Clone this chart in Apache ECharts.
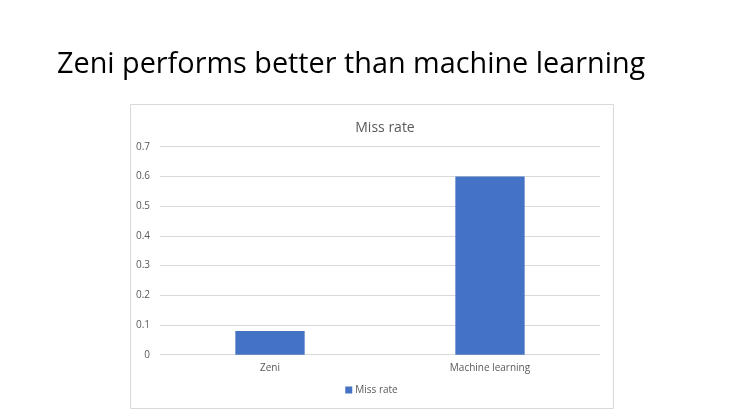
<!DOCTYPE html>
<html><head><meta charset="utf-8">
<script src="https://cdn.jsdelivr.net/npm/echarts@6/dist/echarts.min.js"></script>
<style>html,body{margin:0;padding:0;background:#fff;}#c{width:743px;height:418px;}</style>
</head><body><div id="c"></div>
<script>
const categories = ['Zeni', 'Machine learning'];
const missRate = [0.08, 0.6];
const yTicks = [0, 0.1, 0.2, 0.3, 0.4, 0.5, 0.6, 0.7];

const chart = echarts.init(document.getElementById('c'));
chart.setOption({
  animation: false,
  backgroundColor: '#ffffff',
  graphic: [{
    type: 'rect', left: 130, top: 104, z: -1,
    shape: { width: 483, height: 304 },
    style: { fill: '#fff', stroke: '#d9d9d9', lineWidth: 1 }
  }],
  title: [{
    text: 'Zeni performs better than machine learning',
    left: 52, top: 45,
    textStyle: { fontFamily: 'Open Sans', fontWeight: 'normal', fontSize: 28.8, color: '#000' }
  }, {
    text: 'Miss rate',
    left: 380, top: 116, textAlign: 'center',
    textStyle: { fontFamily: 'Open Sans', fontWeight: 'normal', fontSize: 14, color: '#595959' }
  }],
  legend: {
    bottom: 18, left: 'center',
    itemWidth: 7, itemHeight: 7, itemGap: 4,
    icon: 'rect',
    textStyle: { fontFamily: 'Open Sans', fontSize: 10, color: '#595959', padding: [0,0,0,-2] },
    data: ['Miss rate']
  },
  grid: { left: 160, right: 143, top: 146.7, bottom: 63.3 },
  xAxis: {
    type: 'category', data: categories,
    axisLine: { lineStyle: { color: '#d9d9d9' } },
    axisTick: { show: false },
    axisLabel: { fontFamily: 'Open Sans', fontSize: 10, color: '#595959', margin: 8 }
  },
  yAxis: {
    type: 'value', min: 0, max: 0.7, interval: 0.1,
    axisLine: { show: false }, axisTick: { show: false },
    splitLine: { lineStyle: { color: '#d9d9d9' } },
    axisLabel: {
      fontFamily: 'Open Sans', fontSize: 10, color: '#595959', margin: 10,
      formatter: v => { const t = yTicks.find(x => Math.abs(x - v) < 1e-9); return String(t !== undefined ? t : v); }
    }
  },
  series: [{
    name: 'Miss rate', type: 'bar', data: missRate,
    barWidth: '31.5%',
    itemStyle: { color: '#4472c4' }
  }]
});
</script></body></html>
